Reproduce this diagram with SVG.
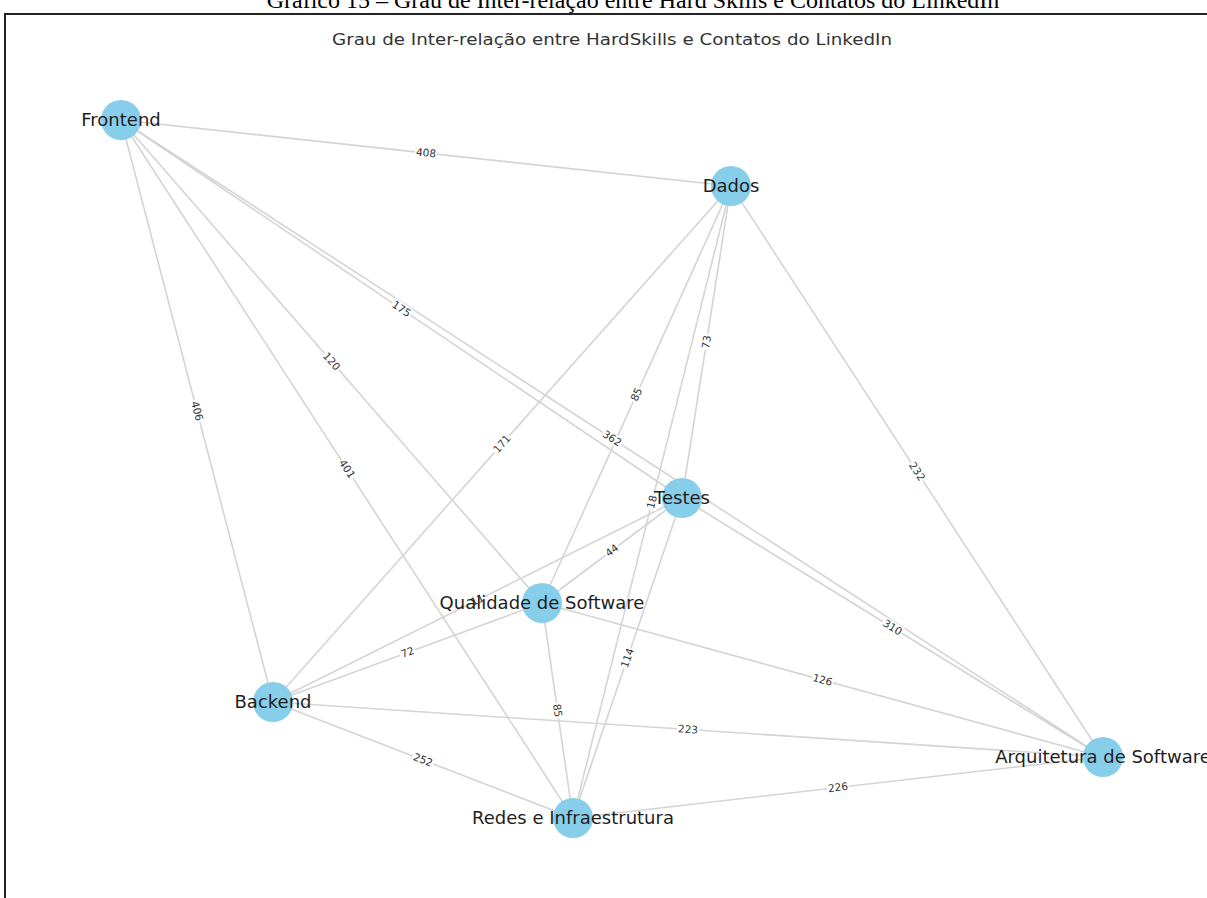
<svg xmlns="http://www.w3.org/2000/svg" width="1207" height="898" viewBox="0 0 1207 898">
<style>
.edge{stroke:#d4d4d4;stroke-width:1.6;fill:none}
.node{fill:#87CEEB}
.nl{font-family:"DejaVu Sans",sans-serif;font-size:18px;fill:#1e1e1e;text-anchor:middle}
.el text{font-family:"DejaVu Sans",sans-serif;font-size:10.5px;fill:#333;text-anchor:middle}
.el rect{fill:#fff}
</style>
<rect width="1207" height="898" fill="#fff"/>
<text x="633" y="8" font-family="Liberation Serif, serif" font-size="24" fill="#000" text-anchor="middle">Gráfico 15 – Grau de Inter-relação entre Hard Skills e Contatos do LinkedIn</text>
<path d="M5,898 V14 H1207" fill="none" stroke="#222" stroke-width="2"/>
<text x="612" y="45" font-family="DejaVu Sans, sans-serif" font-size="16" fill="#333" text-anchor="middle" textLength="560" lengthAdjust="spacingAndGlyphs">Grau de Inter-relação entre HardSkills e Contatos do LinkedIn</text>
<g id="edges">
<line class="edge" x1="121" y1="120" x2="731" y2="186"/>
<line class="edge" x1="121" y1="120" x2="273" y2="702"/>
<line class="edge" x1="121" y1="120" x2="573" y2="818"/>
<line class="edge" x1="121" y1="120" x2="542" y2="603"/>
<line class="edge" x1="121" y1="120" x2="682" y2="498"/>
<line class="edge" x1="121" y1="120" x2="1103" y2="757"/>
<line class="edge" x1="731" y1="186" x2="273" y2="702"/>
<line class="edge" x1="731" y1="186" x2="542" y2="603"/>
<line class="edge" x1="731" y1="186" x2="682" y2="498"/>
<line class="edge" x1="731" y1="186" x2="573" y2="818"/>
<line class="edge" x1="731" y1="186" x2="1103" y2="757"/>
<line class="edge" x1="682" y1="498" x2="542" y2="603"/>
<line class="edge" x1="682" y1="498" x2="273" y2="702"/>
<line class="edge" x1="682" y1="498" x2="573" y2="818"/>
<line class="edge" x1="682" y1="498" x2="1103" y2="757"/>
<line class="edge" x1="542" y1="603" x2="273" y2="702"/>
<line class="edge" x1="542" y1="603" x2="573" y2="818"/>
<line class="edge" x1="542" y1="603" x2="1103" y2="757"/>
<line class="edge" x1="273" y1="702" x2="573" y2="818"/>
<line class="edge" x1="273" y1="702" x2="1103" y2="757"/>
<line class="edge" x1="573" y1="818" x2="1103" y2="757"/>
</g>
<g id="edge-labels" class="el">
<g transform="translate(426,153) rotate(6.2)"><rect x="-11" y="-6" width="22" height="12"/><text y="3.5">408</text></g>
<g transform="translate(197,411) rotate(75.4)"><rect x="-11" y="-6" width="22" height="12"/><text y="3.5">406</text></g>
<g transform="translate(347,469) rotate(57.1)"><rect x="-11" y="-6" width="22" height="12"/><text y="3.5">401</text></g>
<g transform="translate(331.5,361.5) rotate(48.9)"><rect x="-11" y="-6" width="22" height="12"/><text y="3.5">120</text></g>
<g transform="translate(401.5,309) rotate(34)"><rect x="-11" y="-6" width="22" height="12"/><text y="3.5">175</text></g>
<g transform="translate(612,438.5) rotate(33)"><rect x="-11" y="-6" width="22" height="12"/><text y="3.5">362</text></g>
<g transform="translate(502,444) rotate(-48.4)"><rect x="-11" y="-6" width="22" height="12"/><text y="3.5">171</text></g>
<g transform="translate(636.5,394.5) rotate(-65.6)"><rect x="-8" y="-6" width="16" height="12"/><text y="3.5">85</text></g>
<g transform="translate(706.5,342) rotate(-81.1)"><rect x="-8" y="-6" width="16" height="12"/><text y="3.5">73</text></g>
<g transform="translate(652,502) rotate(-76)"><rect x="-8" y="-6" width="16" height="12"/><text y="3.5">18</text></g>
<g transform="translate(917,471.5) rotate(56.9)"><rect x="-11" y="-6" width="22" height="12"/><text y="3.5">232</text></g>
<g transform="translate(612,550.5) rotate(-36.9)"><rect x="-8" y="-6" width="16" height="12"/><text y="3.5">44</text></g>
<g transform="translate(477.5,600) rotate(-26.5)"><rect x="-8" y="-6" width="16" height="12"/><text y="3.5">11</text></g>
<g transform="translate(627.5,658) rotate(-71.2)"><rect x="-11" y="-6" width="22" height="12"/><text y="3.5">114</text></g>
<g transform="translate(892.5,627.5) rotate(31.6)"><rect x="-11" y="-6" width="22" height="12"/><text y="3.5">310</text></g>
<g transform="translate(407.5,652.5) rotate(-20.2)"><rect x="-8" y="-6" width="16" height="12"/><text y="3.5">72</text></g>
<g transform="translate(557.5,710.5) rotate(81.8)"><rect x="-8" y="-6" width="16" height="12"/><text y="3.5">85</text></g>
<g transform="translate(822.5,680) rotate(15.4)"><rect x="-11" y="-6" width="22" height="12"/><text y="3.5">126</text></g>
<g transform="translate(423,760) rotate(21.1)"><rect x="-11" y="-6" width="22" height="12"/><text y="3.5">252</text></g>
<g transform="translate(688,729.5) rotate(3.8)"><rect x="-11" y="-6" width="22" height="12"/><text y="3.5">223</text></g>
<g transform="translate(838,787.5) rotate(-6.6)"><rect x="-11" y="-6" width="22" height="12"/><text y="3.5">226</text></g>
</g>
<g id="node-frontend"><circle class="node" cx="121" cy="120" r="20"/><text class="nl" x="121" y="126">Frontend</text></g>
<g id="node-dados"><circle class="node" cx="731" cy="186" r="20"/><text class="nl" x="731" y="192">Dados</text></g>
<g id="node-testes"><circle class="node" cx="682" cy="498" r="20"/><text class="nl" x="682" y="504">Testes</text></g>
<g id="node-qualidade"><circle class="node" cx="542" cy="603" r="20"/><text class="nl" x="542" y="609">Qualidade de Software</text></g>
<g id="node-backend"><circle class="node" cx="273" cy="702" r="20"/><text class="nl" x="273" y="708">Backend</text></g>
<g id="node-redes"><circle class="node" cx="573" cy="818" r="20"/><text class="nl" x="573" y="824">Redes e Infraestrutura</text></g>
<g id="node-arquitetura"><circle class="node" cx="1103" cy="757" r="20"/><text class="nl" x="1103" y="763">Arquitetura de Software</text></g>
</svg>
